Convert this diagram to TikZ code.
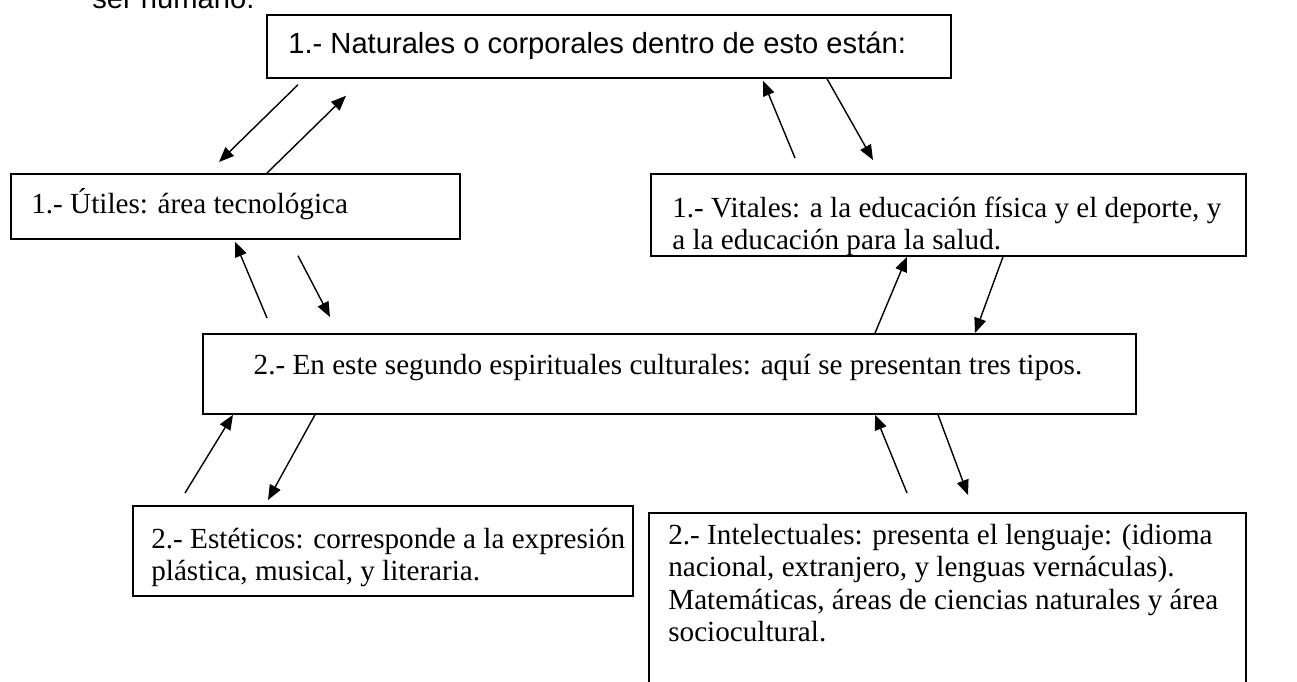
\documentclass[tikz,border=0pt]{standalone}
\usepackage{fontspec}
\setmainfont{Liberation Serif}
\newfontfamily\arialfont{Liberation Sans}
\usetikzlibrary{arrows.meta,calc}

\tikzset{
  caja/.style={draw, line width=1pt, rectangle, inner sep=0pt, anchor=north west},
  flecha/.style={line width=0.8pt, -{Triangle[length=0.3cm,width=0.24cm]}},
  texto/.style={font=\fontsize{16.6}{18.5}\selectfont, inner sep=0pt, anchor=base west},
  sans/.style={font=\arialfont\fontsize{16.6}{18.5}\selectfont, inner sep=0pt, anchor=base west}
}

\begin{document}
\begin{tikzpicture}[x=0.02cm,y=-0.02cm]
\clip (0,0) rectangle (1297,681);

% encabezado cortado
\node[sans] (encab) at (92,8) {ser humano.};

% caja superior
\node[caja, minimum width=13.68cm, minimum height=1.26cm] (natur) at (266,14) {};
\node[sans] (naturt) at (288,53) {1.- Naturales o corporales dentro de esto están:};

% fila 1
\node[caja, minimum width=8.98cm, minimum height=1.3cm] (util) at (10,173) {};
\node[texto] (utilt) at (31,213) {1.- Útiles: área tecnológica};

\node[caja, minimum width=11.9cm, minimum height=1.64cm] (vital) at (650,173) {};
\begin{scope}
\clip (650,173) rectangle (1245,255);
\node[texto] (vitalt) at (672,217)
  {\parbox[t]{11cm}{1.- Vitales: a la educación física y el deporte, y\\a la educación para la salud.}};
\end{scope}

% caja central
\node[caja, minimum width=18.66cm, minimum height=1.6cm] (espir) at (202,333) {};
\node[texto, anchor=base] (espirt) at (668,374)
  {2.- En este segundo espirituales culturales: aquí se presentan tres tipos.};

% fila 2
\node[caja, minimum width=10cm, minimum height=1.8cm] (estet) at (132,505) {};
\node[texto] (estett) at (151,548)
  {\parbox[t]{10cm}{2.- Estéticos: corresponde a la expresión\\plástica, musical, y literaria.}};

\node[caja, minimum width=11.94cm, minimum height=4cm] (intel) at (648,512) {};
\node[texto] (intelt) at (668,544)
  {\parbox[t]{11cm}{2.- Intelectuales: presenta el lenguaje: (idioma\\nacional, extranjero, y lenguas vernáculas).\\Matemáticas, áreas de ciencias naturales y área\\sociocultural.}};

% flechas arriba
\draw[flecha] ($(natur.south west)+(32,6)$) -- ($(util.north west)+(209,-11)$);
\draw[flecha] ($(util.north west)+(257,0)$) -- ($(natur.south west)+(80,17)$);
\draw[flecha] ($(vital.north west)+(145,-15)$) -- ($(natur.south west)+(497,2)$);
\draw[flecha] ($(natur.south west)+(561,0)$) -- ($(vital.north west)+(223,-13)$);

% flechas centro
\draw[flecha] ($(espir.north west)+(65,-15)$) -- ($(util.south west)+(225,2)$);
\draw[flecha] ($(util.south west)+(288,16)$) -- ($(espir.north west)+(128,-16)$);
\draw[flecha] ($(espir.north west)+(673,0)$) -- ($(vital.south west)+(257,0)$);
\draw[flecha] ($(vital.south west)+(353,0)$) -- ($(espir.north west)+(773,0)$);

% flechas abajo
\draw[flecha] ($(estet.north west)+(53,-12)$) -- ($(espir.south west)+(31,0)$);
\draw[flecha] ($(espir.south west)+(113,0)$) -- ($(estet.north west)+(136,-5)$);
\draw[flecha] ($(intel.north west)+(259,-19)$) -- ($(espir.south west)+(673,0)$);
\draw[flecha] ($(espir.south west)+(736,0)$) -- ($(intel.north west)+(320,-17)$);
\end{tikzpicture}
\end{document}
